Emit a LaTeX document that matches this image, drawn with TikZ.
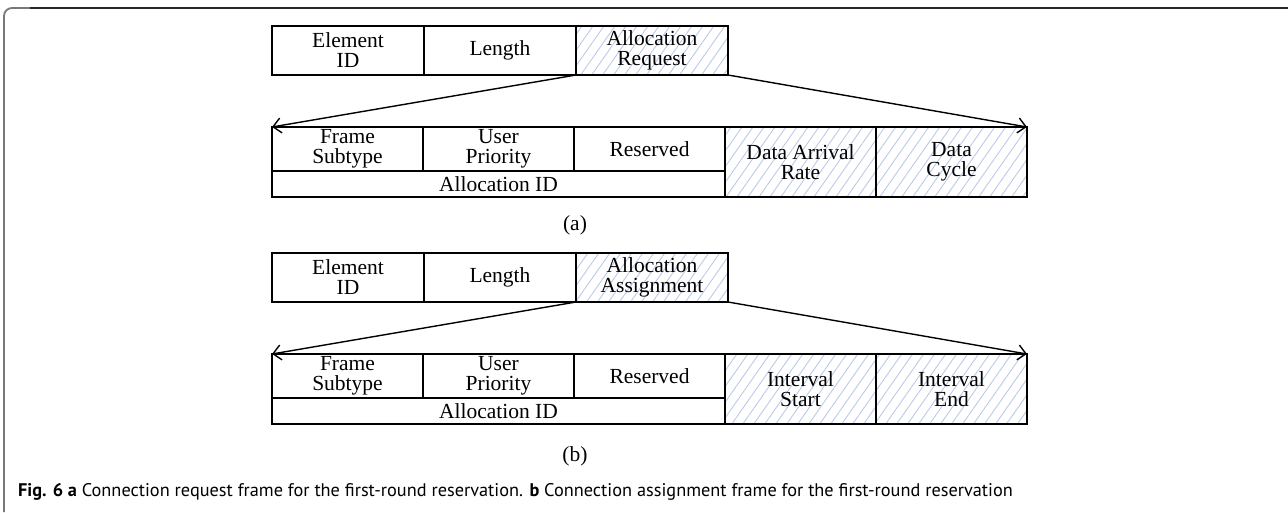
\documentclass[tikz,border=0pt]{standalone}
\usepackage{fontspec}
\setmainfont{Liberation Serif}
\newfontfamily\capfont{PT Sans}
\usetikzlibrary{arrows.meta,positioning,patterns.meta}
\definecolor{hatchblue}{RGB}{186,202,234}
\definecolor{frameline}{RGB}{40,40,40}
\definecolor{frameside}{RGB}{120,120,120}

\begin{document}
\begin{tikzpicture}
    [x=1pt,y=-1pt,
     cell/.style={rectangle,draw=black,line width=1.4pt,inner sep=0pt,outer sep=0pt,align=center,font=\fontsize{21.5}{20}\selectfont},
     head/.style={cell,minimum width=152pt,minimum height=49pt},
     sub/.style={cell,minimum width=151pt,minimum height=44pt},
     tall/.style={cell,minimum width=151pt,minimum height=70pt},
     hatch/.style={pattern={Lines[angle=55,distance=9pt,line width=0.9pt]},pattern color=hatchblue},
     zoom/.style={line width=1.4pt,-{Straight Barb[length=8pt,width=15pt,line width=1.4pt]}}]
    \useasboundingbox (0,0) rectangle (1288,512);
    % frame
    \draw[frameside,line width=1.8pt,rounded corners=8pt] (4,512) -- (4,8) -- (30,8);
    \draw[frameline,line width=1.8pt] (30,8) -- (1288,8);

    % (a) request frame
    \node[head,anchor=north west] (eidA) at (272,26) {Element\\ID};
    \node[head,right=0pt of eidA] (lenA) {Length};
    \node[head,hatch,right=0pt of lenA] (allocA) {Allocation\\Request};
    \node[sub,anchor=north west] (fstA) at (272,127) {Frame\\Subtype};
    \node[sub,right=0pt of fstA] (uprA) {User\\Priority};
    \node[sub,right=0pt of uprA] (resA) {Reserved};
    \node[cell,minimum width=453pt,minimum height=26pt,anchor=north west] (aidA) at (fstA.south west) {Allocation ID};
    \node[tall,hatch,anchor=north west] (darA) at (resA.north east) {Data Arrival\\Rate};
    \node[tall,hatch,right=0pt of darA] (dcyA) {Data\\Cycle};
    \draw[zoom] (allocA.south west) -- (fstA.north west);
    \draw[zoom] (allocA.south east) -- (dcyA.north east);
    \node[font=\fontsize{21.5}{20}\selectfont] (labA) at (575,225) {(a)};

    % (b) assignment frame
    \node[head,anchor=north west] (eidB) at (272,253) {Element\\ID};
    \node[head,right=0pt of eidB] (lenB) {Length};
    \node[head,hatch,right=0pt of lenB] (allocB) {Allocation\\Assignment};
    \node[sub,anchor=north west] (fstB) at (272,354) {Frame\\Subtype};
    \node[sub,right=0pt of fstB] (uprB) {User\\Priority};
    \node[sub,right=0pt of uprB] (resB) {Reserved};
    \node[cell,minimum width=453pt,minimum height=26pt,anchor=north west] (aidB) at (fstB.south west) {Allocation ID};
    \node[tall,hatch,anchor=north west] (istB) at (resB.north east) {Interval\\Start};
    \node[tall,hatch,right=0pt of istB] (iendB) {Interval\\End};
    \draw[zoom] (allocB.south west) -- (fstB.north west);
    \draw[zoom] (allocB.south east) -- (iendB.north east);
    \node[font=\fontsize{21.5}{20}\selectfont] (labB) at (575,456) {(b)};

    % caption
    \node[anchor=base west,inner sep=0pt,font=\capfont\fontsize{18.3}{18}\selectfont] (cap) at (18,496)
      {\textbf{Fig. 6 a} Connection request frame for the first-round reservation. \textbf{b} Connection assignment frame for the first-round reservation};
\end{tikzpicture}
\end{document}
